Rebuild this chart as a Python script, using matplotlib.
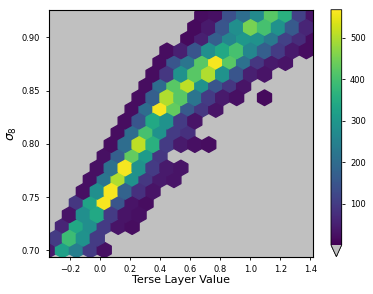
import numpy as np
import matplotlib
matplotlib.use("Agg")
import matplotlib.pyplot as plt

# hex grid: rows counted from the bottom lattice row upward,
# each row starts at column row_start[r]; 0 = empty cell
row_start = [0, 0, 1, 1, 2, 2, 3, 3, 4, 4, 5, 5, 6, 6, 7, 7, 8, 8, 10, 10, 11]
row_counts = [
    [40, 320, 240, 100, 25],
    [100, 390, 290, 100],
    [60, 340, 280, 100, 30, 20],
    [30, 280, 340, 100, 30, 25],
    [90, 330, 560, 150, 30, 20],
    [25, 280, 560, 180, 80, 30],
    [25, 220, 500, 290, 90, 40, 30],
    [25, 210, 560, 290, 100, 40, 30],
    [25, 170, 430, 310, 90],
    [20, 200, 510, 360, 100, 40, 25, 20],
    [20, 200, 400, 290, 100, 80],
    [20, 150, 340, 290, 100, 30],
    [20, 200, 560, 430, 160, 90, 30],
    [20, 170, 500, 420, 220, 100, 40, 25, 0, 15],
    [20, 200, 420, 510, 290, 150, 90, 30],
    [20, 90, 290, 420, 500, 290, 150, 50, 30],
    [20, 150, 220, 420, 560, 420, 210, 90, 40, 30],
    [20, 50, 150, 280, 340, 400, 260, 170, 100, 40, 20],
    [15, 50, 170, 260, 300, 290, 230, 110, 70, 20],
    [15, 40, 150, 280, 450, 400, 290, 160, 60],
    [20, 25, 140, 200, 270, 420, 360, 110, 30],
]

xlim = (-0.345, 1.42)
ylim = (0.694, 0.926)
nx = 19
sx = (xlim[1] - xlim[0]) / nx
sy = 0.022
y_base = 0.7003

xs, ys, cs = [], [], []
for r, (c0, vals) in enumerate(zip(row_start, row_counts)):
    for k, v in enumerate(vals):
        if v <= 0:
            continue
        c = c0 + k
        xs.append(xlim[0] + (c + 0.5 * (r % 2)) * sx)
        ys.append(y_base + r * sy / 2)
        cs.append(v)

fig = plt.figure(figsize=(3.73, 2.94), dpi=100)
ax = fig.add_axes([48.5 / 373, 37.3 / 294, 264.8 / 373, 247 / 294])
ax.set_facecolor("silver")

cmap = plt.get_cmap("viridis").copy()
cmap.set_under("silver")
hb = ax.hexbin(xs, ys, C=cs, reduce_C_function=np.sum, gridsize=(nx, 12),
               extent=(xlim[0], xlim[1], y_base - sy, y_base + 11 * sy),
               cmap=cmap, vmin=1, vmax=567)
ax.set_xlim(xlim)
ax.set_ylim(ylim)
ax.set_yticks([0.70, 0.75, 0.80, 0.85, 0.90])
ax.tick_params(labelsize=6, length=2.5, width=0.6)
ax.set_xlabel("Terse Layer Value", fontsize=8, labelpad=1)
ax.set_ylabel(r"$\sigma_8$", fontsize=9, labelpad=2)

cax = fig.add_axes([331 / 373, 37.3 / 294, 10.7 / 373, 247 / 294])
cb = fig.colorbar(hb, cax=cax, extend="min", ticks=[100, 200, 300, 400, 500])
cb.ax.tick_params(labelsize=6, length=2.5, width=0.6)
cb.outline.set_linewidth(0.6)

fig.savefig("out.png", dpi=100)
